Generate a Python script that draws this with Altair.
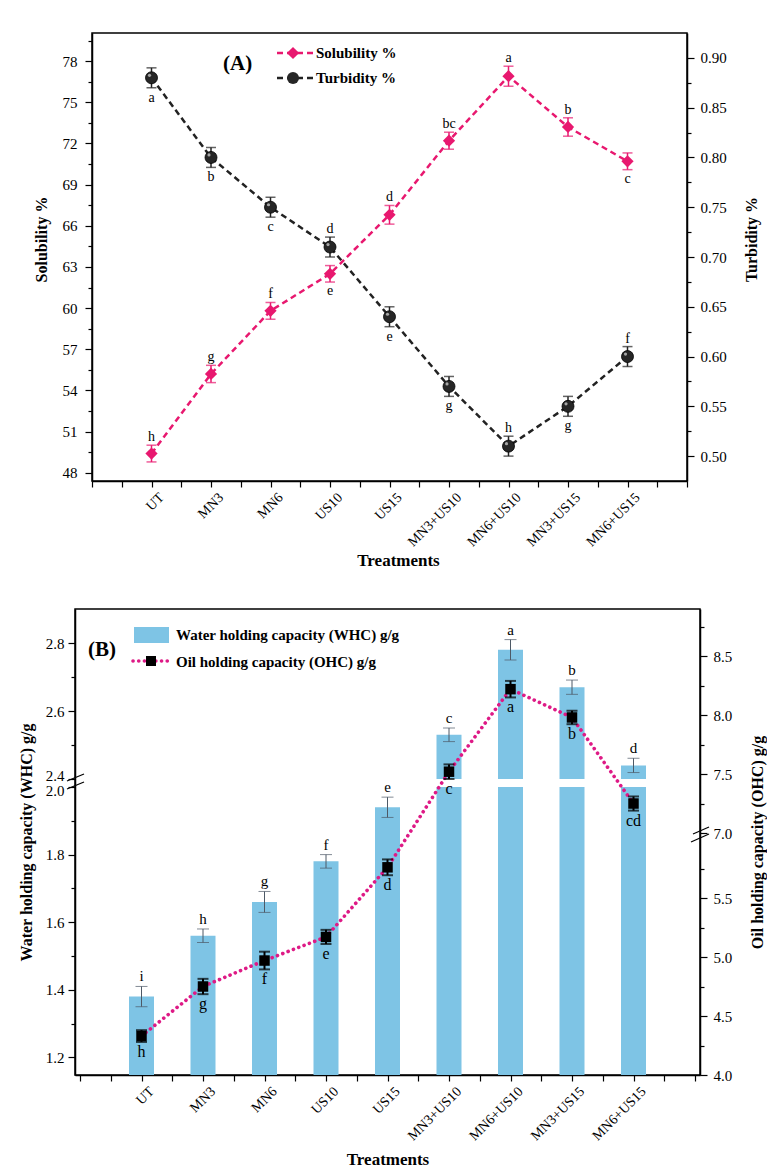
import json

import altair as alt
import pandas as pd

# ---------------- data ----------------
treatments = ["UT", "MN3", "MN6", "US10", "US15",
              "MN3+US10", "MN6+US10", "MN3+US15", "MN6+US15"]

solubility = [49.4, 55.2, 59.8, 62.5, 66.8, 72.2, 76.9, 73.2, 70.7]
solubility_sd = [0.61, 0.63, 0.61, 0.60, 0.68, 0.62, 0.73, 0.67, 0.61]
solubility_grp = ["h", "g", "f", "e", "d", "bc", "a", "b", "c"]
solubility_up = [True, True, True, False, True, True, True, True, False]

turbidity = [0.88, 0.80, 0.75, 0.71, 0.64, 0.57, 0.51, 0.55, 0.60]
turbidity_sd = [0.010, 0.010, 0.010, 0.010, 0.010, 0.010, 0.010, 0.010, 0.010]
turbidity_grp = ["a", "b", "c", "d", "e", "g", "h", "g", "f"]
turbidity_up = [False, False, False, True, False, False, True, False, True]

whc = [1.38, 1.56, 1.66, 1.78, 1.94, 2.53, 2.78, 2.67, 2.44]
whc_sd = [0.030, 0.020, 0.031, 0.020, 0.030, 0.020, 0.030, 0.021, 0.021]
whc_grp = ["i", "h", "g", "f", "e", "c", "a", "b", "d"]

ohc = [4.33, 4.75, 4.97, 5.17, 5.76, 7.52, 8.22, 7.98, 7.25]
ohc_sd = [0.050, 0.065, 0.075, 0.060, 0.067, 0.062, 0.070, 0.057, 0.060]
ohc_grp = ["h", "g", "f", "e", "d", "c", "a", "b", "cd"]

# ---------------- style ----------------
FONT = "Liberation Serif"
PINK_A = "#e8186f"
PINK_B = "#de1a86"
BLUE = "#7ec4e5"
SPHERE = "#262626"
MANY = 200  # keep every explicit tick value

pos = list(range(1, len(treatments) + 1))

df_a = pd.DataFrame({
    "pos": pos, "treatment": treatments,
    "sol": solubility, "sol_sd": solubility_sd, "sol_grp": solubility_grp, "sol_up": solubility_up,
    "tur": turbidity, "tur_sd": turbidity_sd, "tur_grp": turbidity_grp, "tur_up": turbidity_up,
})
df_b = pd.DataFrame({
    "pos": pos, "treatment": treatments,
    "whc": whc, "whc_sd": whc_sd, "whc_grp": whc_grp,
    "ohc": ohc, "ohc_sd": ohc_sd, "ohc_grp": ohc_grp,
})
one = pd.DataFrame({"k": [0]})

# ---------------- shared x axis (numeric positions, category names as labels) ----------------
x_label_expr = (f"datum.value % 1 == 0 && datum.value >= 1 && datum.value <= {len(treatments)}"
                f" ? {json.dumps(treatments)}[datum.value - 1] : ''")
x_ticks = [i / 2 for i in range(2 * (len(treatments) + 1) + 1)]


def x_enc(**extra):
    axis = alt.Axis(values=x_ticks, tickCount=MANY, labelExpr=x_label_expr, labelAngle=315,
                    labelAlign="right", labelBaseline="top", labelPadding=3, labelOffset=5,
                    labelFontSize=14, tickSize=6, labelFlush=False,
                    labelOverlap=False, labelBound=False, title="Treatments",
                    titleFontSize=17, **extra)
    return alt.X("pos:Q", scale=alt.Scale(domain=[0, len(treatments) + 1], nice=False, zero=False),
                 axis=axis, title="Treatments")


def minor_size(test):
    return {"condition": {"test": test, "value": 7}, "value": 4}


# ---------------- panel A: solubility (left) and turbidity (right) ----------------
sol_scale = alt.Scale(domain=[47.4, 80.05], nice=False, zero=False)
sol_ticks = [48 + 1.5 * i for i in range(22)]
sol_axis = alt.Axis(orient="left", values=sol_ticks, tickCount=MANY,
                    tickSize=minor_size("datum.value % 3 == 0"),
                    labelExpr="datum.value % 3 == 0 ? format(datum.value, '.0f') : ''",
                    labelPadding=8, titlePadding=13, titleY=206, labelOverlap=False)
tur_scale = alt.Scale(domain=[0.475, 0.925], nice=False, zero=False)
tur_ticks = [round(0.5 + 0.025 * i, 3) for i in range(17)]
tur_major = json.dumps([round(0.5 + 0.05 * i, 2) for i in range(9)])
tur_axis = alt.Axis(orient="right", values=tur_ticks, tickCount=MANY,
                    tickSize=minor_size(f"indexof({tur_major}, datum.value) >= 0"),
                    labelExpr=f"indexof({tur_major}, datum.value) >= 0 ? format(datum.value, '.2f') : ''",
                    labelPadding=6, titlePadding=17, titleY=206, titleAngle=270,
                    titleBaseline="top", labelOverlap=False)

xa = x_enc(titleX=306, titlePadding=4)


def ya(field):
    return alt.Y(field, scale=sol_scale, axis=sol_axis, title="Solubility %")


def yt(field):
    return alt.Y(field, scale=tur_scale, axis=tur_axis, title="Turbidity %")


sol_base = alt.Chart().transform_calculate(lo="datum.sol - datum.sol_sd", hi="datum.sol + datum.sol_sd")
sol_group = alt.layer(
    alt.Chart().mark_line(color=PINK_A, strokeDash=[6, 4], strokeWidth=2.5).encode(x=xa, y=ya("sol:Q")),
    sol_base.mark_rule(color=PINK_A, strokeWidth=1.5).encode(x=xa, y=ya("lo:Q"), y2="hi:Q"),
    sol_base.transform_fold(["lo", "hi"], as_=["end", "v"]).mark_tick(
        orient="horizontal", size=10, thickness=1.5, color=PINK_A).encode(x=xa, y=ya("v:Q")),
    alt.Chart().mark_point(shape="diamond", filled=True, size=150, color=PINK_A, opacity=1).encode(
        x=xa, y=ya("sol:Q")),
    sol_base.transform_filter("datum.sol_up").mark_text(
        font=FONT, fontSize=14, baseline="alphabetic", dy=-4, color="black").encode(
        x=xa, y=ya("hi:Q"), text="sol_grp:N"),
    sol_base.transform_filter("!datum.sol_up").mark_text(
        font=FONT, fontSize=14, baseline="top", dy=2, color="black").encode(
        x=xa, y=ya("lo:Q"), text="sol_grp:N"),
)

tur_base = alt.Chart().transform_calculate(lo="datum.tur - datum.tur_sd", hi="datum.tur + datum.tur_sd")
tur_group = alt.layer(
    alt.Chart().mark_line(color="#222222", strokeDash=[6, 4], strokeWidth=2.5).encode(x=xa, y=yt("tur:Q")),
    tur_base.mark_rule(color="#222222", strokeWidth=1.5).encode(x=xa, y=yt("lo:Q"), y2="hi:Q"),
    tur_base.transform_fold(["lo", "hi"], as_=["end", "v"]).mark_tick(
        orient="horizontal", size=10, thickness=1.5, color="#222222").encode(x=xa, y=yt("v:Q")),
    alt.Chart().mark_point(shape="circle", filled=True, size=144, color=SPHERE, opacity=1,
                           stroke="black", strokeWidth=0.8).encode(x=xa, y=yt("tur:Q")),
    alt.Chart().mark_point(shape="circle", filled=True, size=10, color="#b5b5b5", opacity=0.9,
                           xOffset=-2, yOffset=-2.5).encode(x=xa, y=yt("tur:Q")),
    tur_base.transform_filter("datum.tur_up").mark_text(
        font=FONT, fontSize=14, baseline="alphabetic", dy=-4, color="black").encode(
        x=xa, y=yt("hi:Q"), text="tur_grp:N"),
    tur_base.transform_filter("!datum.tur_up").mark_text(
        font=FONT, fontSize=14, baseline="top", dy=3, color="black").encode(
        x=xa, y=yt("lo:Q"), text="tur_grp:N"),
)


def deco_text(text, x, y, size=15, align="left"):
    return alt.Chart(one).mark_text(text=text, font=FONT, fontSize=size, fontWeight="bold",
                                    align=align, baseline="middle", color="black").encode(
        x=alt.value(x), y=alt.value(y))


deco_a = alt.layer(
    alt.Chart(one).mark_rule(color=PINK_A, strokeDash=[6, 4], strokeWidth=2.5).encode(
        x=alt.value(185), x2=alt.value(221), y=alt.value(20)),
    alt.Chart(one).mark_point(shape="diamond", filled=True, size=150, color=PINK_A, opacity=1).encode(
        x=alt.value(201), y=alt.value(20)),
    deco_text("Solubility %", 224, 20),
    alt.Chart(one).mark_rule(color="#222222", strokeDash=[6, 4], strokeWidth=2.5).encode(
        x=alt.value(185), x2=alt.value(221), y=alt.value(45)),
    alt.Chart(one).mark_point(shape="circle", filled=True, size=144, color=SPHERE, opacity=1).encode(
        x=alt.value(201), y=alt.value(45)),
    deco_text("Turbidity %", 224, 45),
    deco_text("(A)", 131, 31, size=21),
)

panel_a = alt.layer(sol_group, tur_group, deco_a, data=df_a).resolve_scale(
    y="independent").properties(width=595, height=448)

# ---------------- panel B: WHC bars (left) and OHC line (right), both broken ----------------
WHC_MIN = 1.148
whc_scale = alt.Scale(domain=[WHC_MIN, 2.0, 2.4, 2.9], range=[466, 178, 170, 0], nice=False, zero=False)
whc_ticks = [round(1.2 + 0.1 * i, 1) for i in range(9)] + [round(2.4 + 0.1 * i, 1) for i in range(5)]
whc_major = json.dumps([1.2, 1.4, 1.6, 1.8, 2.0, 2.4, 2.6, 2.8])
whc_axis = alt.Axis(orient="left", values=whc_ticks, tickCount=MANY,
                    tickSize=minor_size(f"indexof({whc_major}, datum.value) >= 0"),
                    labelExpr=f"indexof({whc_major}, datum.value) >= 0 ? format(datum.value, '.1f') : ''",
                    # the two labels either side of the break sit close together
                    labelOffset={"condition": [{"test": "datum.value == 2.4", "value": -4},
                                               {"test": "datum.value == 2", "value": 3}],
                                 "value": 0},
                    labelPadding=4, titlePadding=11, labelOverlap=False)
ohc_scale = alt.Scale(domain=[4.0, 6.0, 7.0, 8.9], range=[466, 230, 224, 0], nice=False, zero=False)
ohc_ticks = [round(4 + 0.25 * i, 2) for i in range(8)] + [round(7 + 0.25 * i, 2) for i in range(8)]
ohc_axis = alt.Axis(orient="right", values=ohc_ticks, tickCount=MANY,
                    tickSize=minor_size("datum.value % 0.5 == 0"),
                    labelExpr="datum.value % 0.5 == 0 ? format(datum.value, '.1f') : ''",
                    labelPadding=6, titlePadding=18, titleAngle=270, titleBaseline="top",
                    labelOverlap=False)

xb = x_enc(titlePadding=9)


def yw(field):
    return alt.Y(field, scale=whc_scale, axis=whc_axis, title="Water holding capacity (WHC) g/g")


def yo(field):
    return alt.Y(field, scale=ohc_scale, axis=ohc_axis, title="Oil holding capacity (OHC) g/g")


whc_base = alt.Chart().transform_calculate(lo="datum.whc - datum.whc_sd", hi="datum.whc + datum.whc_sd")
whc_group = alt.layer(
    alt.Chart().mark_bar(size=25, color=BLUE).encode(x=xb, y=yw("whc:Q"), y2=alt.datum(WHC_MIN)),
    # white gap where the WHC axis is broken
    alt.Chart(one).mark_rect(color="white").encode(
        x=alt.value(2), x2=alt.value(623), y=alt.datum(2.0), y2=alt.datum(2.4)),
    whc_base.mark_rule(color="#4d5966", strokeWidth=1).encode(x=xb, y=yw("lo:Q"), y2="hi:Q"),
    whc_base.transform_fold(["lo", "hi"], as_=["end", "v"]).mark_tick(
        orient="horizontal", size=12, thickness=1, color="#4d5966").encode(x=xb, y=yw("v:Q")),
    whc_base.mark_text(font=FONT, fontSize=15, baseline="alphabetic", dy=-5, color="black").encode(
        x=xb, y=yw("hi:Q"), text="whc_grp:N"),
)

ohc_base = alt.Chart().transform_calculate(lo="datum.ohc - datum.ohc_sd", hi="datum.ohc + datum.ohc_sd")
ohc_group = alt.layer(
    alt.Chart().mark_line(color=PINK_B, strokeDash=[0.1, 5.6], strokeCap="round", strokeWidth=3.6).encode(
        x=xb, y=yo("ohc:Q")),
    ohc_base.mark_rule(color="black", strokeWidth=2).encode(x=xb, y=yo("lo:Q"), y2="hi:Q"),
    ohc_base.transform_fold(["lo", "hi"], as_=["end", "v"]).mark_tick(
        orient="horizontal", size=11, thickness=2, color="black").encode(x=xb, y=yo("v:Q")),
    alt.Chart().mark_point(shape="square", filled=True, size=110, color="black", opacity=1).encode(
        x=xb, y=yo("ohc:Q")),
    ohc_base.mark_text(font=FONT, fontSize=16, baseline="top", dy=2, color="black").encode(
        x=xb, y=yo("lo:Q"), text="ohc_grp:N"),
)


def slash(x1, y1, x2, y2):
    return alt.Chart(one).mark_rule(color="black", strokeWidth=1.2).encode(
        x=alt.value(x1), y=alt.value(y1), x2=alt.value(x2), y2=alt.value(y2))


deco_b = alt.layer(
    alt.Chart(one).mark_rect(color=BLUE).encode(
        x=alt.value(59), x2=alt.value(94), y=alt.value(18), y2=alt.value(34)),
    deco_text("Water holding capacity (WHC) g/g", 101, 26),
    alt.Chart(one).mark_rule(color=PINK_B, strokeDash=[0.1, 5.6], strokeCap="round", strokeWidth=3.6).encode(
        x=alt.value(58), x2=alt.value(95), y=alt.value(52)),
    alt.Chart(one).mark_point(shape="square", filled=True, size=100, color="black", opacity=1).encode(
        x=alt.value(76), y=alt.value(52)),
    deco_text("Oil holding capacity (OHC) g/g", 101, 53),
    deco_text("(B)", 13, 41, size=21),
    slash(-8, 172, 9, 165), slash(-8, 180, 9, 173),
    slash(618, 225, 634, 218), slash(616, 233, 634, 225),
)

panel_b = alt.layer(whc_group, ohc_group, deco_b, data=df_b).resolve_scale(
    y="independent").properties(width=625, height=466)


# ---------------- layout ----------------
def spacer():
    return alt.Chart(one).mark_point(opacity=0, size=1).encode(
        x=alt.value(0), y=alt.value(0)).properties(
        width=1, height=1, view=alt.ViewBackground(strokeOpacity=0))


chart = alt.vconcat(
    alt.hconcat(spacer(), panel_a, spacing=15),
    alt.hconcat(spacer(), panel_b, spacing=0),
    spacing=38,
).properties(
    padding={"left": 15, "top": 32, "right": 0, "bottom": 0},
    background="white",
).configure_view(
    stroke="black", strokeWidth=1.5,
).configure_axis(
    labelFont=FONT, titleFont=FONT, labelFontSize=15, titleFontSize=16,
    labelColor="black", titleColor="black", titleFontWeight="bold",
    domainColor="black", domainWidth=1.5, tickColor="black", tickWidth=1.2, grid=False,
).configure_text(font=FONT)

chart.save("out.html", embed_options={"renderer": "svg", "actions": False})
